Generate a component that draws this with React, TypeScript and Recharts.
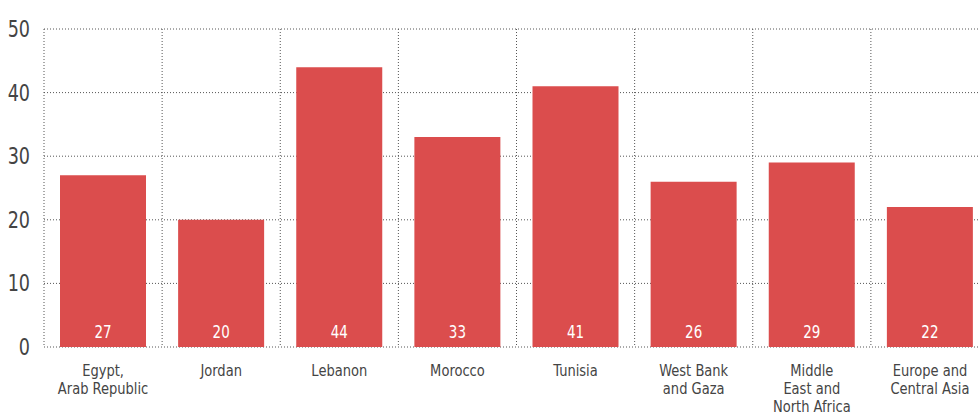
import React from "react";
import { BarChart, Bar, XAxis, YAxis, CartesianGrid, LabelList } from "recharts";

const categories = [
  "Egypt,\nArab Republic",
  "Jordan",
  "Lebanon",
  "Morocco",
  "Tunisia",
  "West Bank\nand Gaza",
  "Middle\nEast and\nNorth Africa",
  "Europe and\nCentral Asia",
];
const values = [27, 20, 44, 33, 41, 26, 29, 22];
const yTicks = [0, 10, 20, 30, 40, 50];

const data = categories.map((name, i) => ({ name, value: values[i] }));

const FONT = "'DejaVu Sans', sans-serif";
const BAR = "#db4d4d";
const TEXT = "#444444";
const narrow = { fontStretch: "condensed" as const };

// condensed font squeezed a bit more horizontally to look like the original
const YTick = ({ y, payload }: any) => (
  <g transform={`translate(30, ${y + 8}) scale(0.85, 1)`}>
    <text x={0} y={0} textAnchor="end" fontFamily={FONT} fontSize={23} fill={TEXT} style={narrow}>
      {payload.value}
    </text>
  </g>
);

const XTick = ({ x, payload }: any) => {
  const lines = String(payload.value).split("\n");
  return (
    <g transform={`translate(${x}, 376) scale(0.88, 1)`}>
      <text x={0} y={0} textAnchor="middle" fontFamily={FONT} fontSize={16.5} fill={TEXT} style={narrow}>
        {lines.map((l, i) => (
          <tspan key={i} x={0} dy={i === 0 ? 0 : 18}>
            {l}
          </tspan>
        ))}
      </text>
    </g>
  );
};

const ValueLabel = ({ x, y, width, height, value }: any) => (
  <g transform={`translate(${x + width / 2}, ${y + height - 9.5}) scale(0.88, 1)`}>
    <text x={0} y={0} textAnchor="middle" fontFamily={FONT} fontSize={17} fill="#ffffff" style={narrow}>
      {value}
    </text>
  </g>
);

const App = () => {
  return (
    <div
      style={{
        position: "absolute",
        left: 0,
        top: 0,
        width: 979,
        height: 415,
        overflow: "hidden",
        background: "#fff",
      }}
    >
      <BarChart
        width={990}
        height={415}
        data={data}
        margin={{ top: 29, right: 1, bottom: 0, left: 0 }}
      >
        <CartesianGrid
          stroke="#555"
          strokeDasharray="1 2"
          verticalCoordinatesGenerator={({ offset }: any) =>
            categories
              .map((_, i) => offset.left + (i * offset.width) / categories.length)
              .concat(offset.left + offset.width)
          }
        />
        <XAxis
          dataKey="name"
          height={68}
          axisLine={false}
          tickLine={false}
          interval={0}
          tick={<XTick />}
        />
        <YAxis
          width={44}
          domain={[0, 50]}
          ticks={yTicks}
          axisLine={false}
          tickLine={false}
          tick={<YTick />}
        />
        <Bar dataKey="value" fill={BAR} barSize={86} isAnimationActive={false}>
          <LabelList dataKey="value" content={<ValueLabel />} />
        </Bar>
      </BarChart>
    </div>
  );
};

export default App;
